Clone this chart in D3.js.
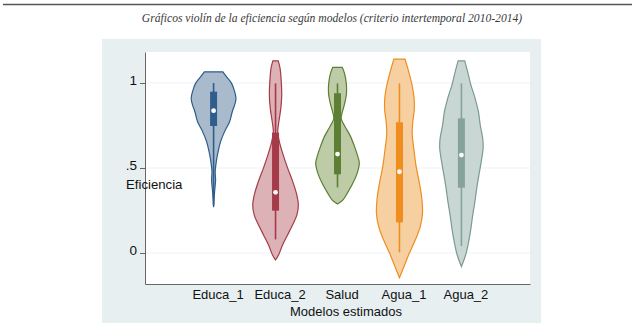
<!DOCTYPE html>
<html><head><meta charset="utf-8">
<script src="https://cdn.jsdelivr.net/npm/d3@7"></script>
<style>body{margin:0;background:#fff}svg{display:block}</style>
</head><body>
<svg id="c" width="640" height="333"></svg>
<script>
const title = "Gráficos violín de la eficiencia según modelos (criterio intertemporal 2010-2014)";
const categories = ["Educa_1","Educa_2","Salud","Agua_1","Agua_2"];
const yTicks = [0, 0.5, 1];
const yTickLabels = ["0", ".5", "1"];
const yTitle = "Eficiencia";
const xTitle = "Modelos estimados";

// relative density profiles: [efficiency, density]
const densEduca1 = [[1.066,0.93],[1.04,1.25],[1.015,1.6],[0.998,1.8],[0.96,2.05],[0.91,2.24],[0.87,2.1],[0.831,1.87],[0.772,1.6],[0.714,1.1],[0.655,0.7],[0.596,0.45],[0.537,0.27],[0.478,0.16],[0.43,0.2],[0.36,0.1],[0.27,0.0]];
const densEduca2 = [[1.13,0.27],[1.087,0.45],[1.01,0.57],[0.93,0.62],[0.852,0.53],[0.772,0.33],[0.714,0.22],[0.655,0.38],[0.576,0.77],[0.498,1.22],[0.42,1.72],[0.341,2.13],[0.282,2.28],[0.223,2.13],[0.165,1.7],[0.106,1.2],[0.047,0.7],[-0.012,0.3],[-0.041,0.0]];
const densSalud = [[1.092,0.47],[1.057,0.7],[0.998,0.88],[0.94,0.9],[0.88,0.72],[0.822,0.45],[0.79,0.37],[0.744,0.75],[0.686,1.3],[0.627,1.7],[0.568,2.03],[0.528,2.18],[0.47,1.97],[0.41,1.53],[0.351,0.97],[0.312,0.55],[0.288,0.0]];
const densAgua1 = [[1.141,0.55],[1.076,0.88],[0.998,1.22],[0.92,1.45],[0.841,1.48],[0.782,1.35],[0.704,1.27],[0.606,1.45],[0.508,1.67],[0.41,2.0],[0.312,2.25],[0.233,2.3],[0.155,2.08],[0.076,1.58],[-0.002,0.98],[-0.08,0.45],[-0.145,0.0]];
const densAgua2 = [[1.13,0.33],[1.067,0.62],[0.988,0.95],[0.91,1.37],[0.831,1.7],[0.753,1.88],[0.674,2.13],[0.616,2.17],[0.537,1.98],[0.459,1.75],[0.38,1.53],[0.302,1.35],[0.223,1.13],[0.145,0.95],[0.066,0.72],[-0.012,0.42],[-0.08,0.0]];
const densities = [densEduca1, densEduca2, densSalud, densAgua1, densAgua2];

// box summaries: [lower adjacent, q1, median, q3, upper adjacent]
const boxStats = [
  [0.28, 0.747, 0.837, 0.949, 1.0],
  [0.08, 0.249, 0.357, 0.708, 0.998],
  [0.386, 0.463, 0.582, 0.94, 0.998],
  [0.004, 0.18, 0.478, 0.769, 0.998],
  [0.041, 0.384, 0.576, 0.792, 0.998]
];
const strokeColors = ["#2d5d8b","#a53b48","#5d7f33","#ef8d1f","#7b9a92"];
const fillColors   = ["#a9bacd","#dcb2b7","#bdcba7","#f7d0a2","#c9d7d4"];
const boxColors    = ["#2f5e8d","#a53b48","#5d7f33","#ef8d1f","#86a39b"];

const svg = d3.select("#c");

// top rule and title
svg.append("line").attr("x1",3).attr("x2",632).attr("y1",4.5).attr("y2",4.5)
  .attr("stroke","#555").attr("stroke-width",1.5);
svg.append("text").attr("x",332).attr("y",22).attr("text-anchor","middle")
  .attr("font-family","Liberation Serif, serif").attr("font-style","italic")
  .attr("font-size",11.6).attr("fill","#3a3a3a").text(title);

// panel
svg.append("rect").attr("x",102).attr("y",39).attr("width",439).attr("height",284).attr("fill","#e7eff1");
svg.append("rect").attr("x",145).attr("y",52).attr("width",385).attr("height",232).attr("fill","#fff");

const y = d3.scaleLinear().domain([-0.1824, 1.1824]).range([284, 52]);
const x = d3.scalePoint().domain(categories).range([145, 530]).padding(1.107);
const w = d3.scaleLinear().domain([0, 1]).range([0, 10]);

// gridlines
svg.append("g").selectAll("line").data(yTicks).join("line")
  .attr("x1",145).attr("x2",530).attr("y1",d=>y(d)).attr("y2",d=>y(d))
  .attr("stroke","#edf2f4").attr("stroke-width",1.2);

// violins
categories.forEach((c, i) => {
  const cx = x(c);
  const area = d3.area()
    .y(d => y(d[0]))
    .x0(d => cx - w(d[1]))
    .x1(d => cx + w(d[1]))
    .curve(d3.curveCatmullRom);
  svg.append("path").datum(densities[i]).attr("d", area)
    .attr("fill", fillColors[i]).attr("stroke", strokeColors[i]).attr("stroke-width", 1.2);
  const s = boxStats[i];
  svg.append("line").attr("x1",cx).attr("x2",cx).attr("y1",y(s[0])).attr("y2",y(s[4]))
    .attr("stroke",boxColors[i]).attr("stroke-width",1.6);
  svg.append("rect").attr("x",cx-3.5).attr("width",7).attr("y",y(s[3])).attr("height",y(s[1])-y(s[3]))
    .attr("fill",boxColors[i]);
  svg.append("circle").attr("cx",cx).attr("cy",y(s[2])).attr("r",2.4).attr("fill","#fff");
});

// y axis
const ya = svg.append("g").attr("transform","translate(145,0)")
  .call(d3.axisLeft(y).tickValues(yTicks).tickFormat((d,i)=>yTickLabels[i]).tickSize(5).tickSizeOuter(0).tickPadding(3));
ya.select(".domain").attr("stroke","#666");
ya.selectAll(".tick line").attr("stroke","#666");
ya.selectAll(".tick text").attr("font-family","Liberation Sans, Arial, sans-serif").attr("font-size",13.5)
  .attr("fill","#111").attr("dy","0.1em");

// x axis
const xa = svg.append("g").attr("transform","translate(0,284)")
  .call(d3.axisBottom(x).tickSize(0).tickSizeOuter(0).tickPadding(0));
xa.select(".domain").attr("stroke","#666");
xa.selectAll(".tick text").attr("font-family","Liberation Sans, Arial, sans-serif").attr("font-size",13)
  .attr("fill","#111").attr("x",4).attr("y",14.5).attr("dy",0);

// axis titles
svg.append("text").attr("x",126).attr("y",189).attr("font-family","Liberation Sans, Arial, sans-serif")
  .attr("font-size",13.2).attr("fill","#111").text(yTitle);
svg.append("text").attr("x",346).attr("y",316).attr("text-anchor","middle").attr("font-family","Liberation Sans, Arial, sans-serif")
  .attr("font-size",13).attr("fill","#111").text(xTitle);
</script>
</body></html>
